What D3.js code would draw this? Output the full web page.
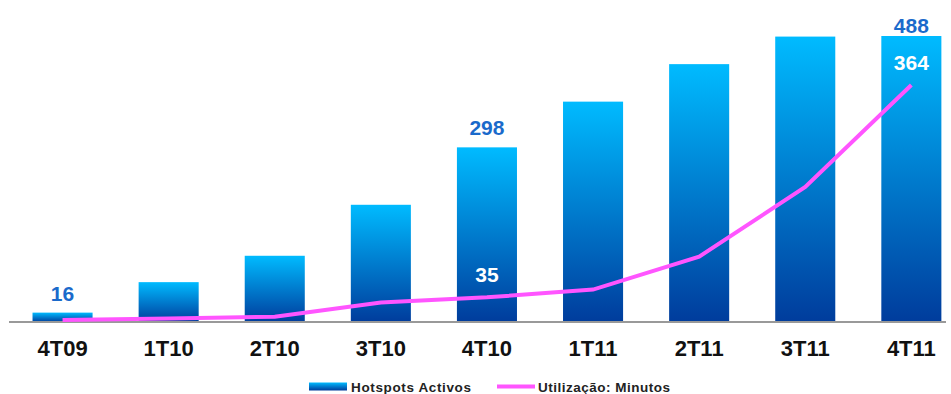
<!DOCTYPE html>
<html>
<head>
<meta charset="utf-8">
<script src="https://cdn.jsdelivr.net/npm/d3@7"></script>
<style>
  body { margin: 0; background: #fff; }
  text { font-family: "Liberation Sans", Arial, sans-serif; font-weight: bold; }
</style>
</head>
<body>
<div class="svg-target"></div>
<script>
const quarters = ['4T09', '1T10', '2T10', '3T10', '4T10', '1T11', '2T11', '3T11', '4T11'];
const hotspots = [16, 68, 113, 200, 298, 376, 440, 487, 488];
const minutos = [0, 2, 5, 27, 35, 47, 98, 206, 364];
const barLabels = { '4T09': 16, '4T10': 298, '4T11': 488 };
const lineLabels = { '4T10': 35, '4T11': 364 };

const w = 951;
const h = 394;
const base = 322;

const svg = d3.select('.svg-target')
    .append('svg')
    .attr('width', w)
    .attr('height', h);

// gradient for bars
const grad = svg.append('defs').append('linearGradient')
    .attr('id', 'barGrad')
    .attr('x1', 0).attr('y1', 0).attr('x2', 0).attr('y2', 1);
grad.append('stop').attr('offset', '0%').attr('stop-color', '#00bbff');
grad.append('stop').attr('offset', '100%').attr('stop-color', '#003c9c');

// scales
const x = d3.scaleBand()
    .domain(quarters)
    .range([9.5, 964.4])
    .paddingInner(0.434)
    .paddingOuter(0.217);

const yBar = d3.scaleLinear()
    .domain([0, 488])
    .range([base, 36]);

const yLine = d3.scaleLinear()
    .domain([0, 364])
    .range([319.9, 85]);

// bars
svg.selectAll('rect.bar')
    .data(quarters)
    .enter()
    .append('rect')
        .attr('class', 'bar')
        .attr('x', d => x(d))
        .attr('width', x.bandwidth())
        .attr('y', (d, i) => yBar(hotspots[i]))
        .attr('height', (d, i) => base - yBar(hotspots[i]))
        .attr('fill', 'url(#barGrad)');

// x axis
const xAxis = d3.axisBottom(x).tickSize(0).tickPadding(18);
const gx = svg.append('g')
    .attr('transform', `translate(0, ${base})`)
    .call(xAxis);
gx.select('.domain').remove();
gx.selectAll('text')
    .attr('font-size', 22)
    .attr('fill', '#111')
    .attr('font-family', '"Liberation Sans", Arial, sans-serif');

svg.append('line')
    .attr('x1', 9).attr('x2', 946)
    .attr('y1', base).attr('y2', base)
    .attr('stroke', '#999')
    .attr('stroke-width', 2);

// line
const cx = d => x(d) + x.bandwidth() / 2;
const line = d3.line()
    .x(d => cx(d))
    .y((d, i) => yLine(minutos[i]));

svg.append('path')
    .datum(quarters)
    .attr('d', line)
    .attr('fill', 'none')
    .attr('stroke', '#ff55ff')
    .attr('stroke-width', 4);

// bar labels
svg.selectAll('text.blab')
    .data(Object.keys(barLabels))
    .enter()
    .append('text')
        .attr('class', 'blab')
        .attr('x', d => cx(d))
        .attr('y', d => Math.max(yBar(barLabels[d]) - 12, 33))
        .attr('text-anchor', 'middle')
        .attr('font-size', 21)
        .attr('fill', '#1a6acb')
        .text(d => barLabels[d]);

// line labels
svg.selectAll('text.llab')
    .data(Object.keys(lineLabels))
    .enter()
    .append('text')
        .attr('class', 'llab')
        .attr('x', d => cx(d))
        .attr('y', d => yLine(lineLabels[d]) - 15)
        .attr('text-anchor', 'middle')
        .attr('font-size', 21)
        .attr('fill', '#fff')
        .text(d => lineLabels[d]);

// legend
const legend = svg.append('g');
legend.append('rect')
    .attr('x', 309).attr('y', 382.5)
    .attr('width', 38).attr('height', 8)
    .attr('fill', 'url(#barGrad)');
legend.append('text')
    .attr('x', 351).attr('y', 391.5)
    .attr('font-size', 13.5)
    .attr('fill', '#222')
    .attr('textLength', 120)
    .text('Hotspots Activos');
legend.append('line')
    .attr('x1', 497).attr('x2', 535)
    .attr('y1', 386.5).attr('y2', 386.5)
    .attr('stroke', '#ff55ff')
    .attr('stroke-width', 4);
legend.append('text')
    .attr('x', 538).attr('y', 391.5)
    .attr('font-size', 13.5)
    .attr('fill', '#222')
    .attr('textLength', 132)
    .text('Utilização: Minutos');
</script>
</body>
</html>
